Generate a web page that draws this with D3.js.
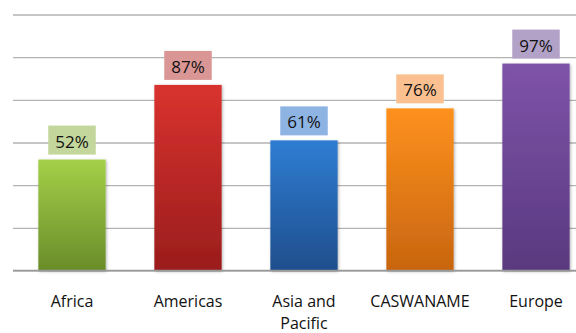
<!DOCTYPE html>
<html><head><meta charset="utf-8">
<script src="https://cdn.jsdelivr.net/npm/d3@7"></script>
<style>html,body{margin:0;padding:0;background:#fff;}svg{display:block;font-family:"Open Sans",sans-serif;}</style>
</head><body>
<script>
const categories = ["Africa", "Americas", "Asia and Pacific", "CASWANAME", "Europe"];
const values = [52, 87, 61, 76, 97];
const tickValues = [0, 20, 40, 60, 80, 100, 120];
const barTop = ["#a3d048", "#d9322e", "#2f7dd3", "#fe911e", "#7e53a9"];
const barBottom = ["#6a8c2a", "#9a1d1d", "#1f4e8c", "#c8650f", "#5a397f"];
const boxColors = ["#c3d69b", "#d99694", "#8eb4e3", "#fac090", "#b3a2c7"];

const W = 576, H = 333;
const svg = d3.select("body").append("svg").attr("width", W).attr("height", H);
const defs = svg.append("defs");
categories.forEach((c, i) => {
  const g = defs.append("linearGradient").attr("id", "g" + i).attr("x1", 0).attr("y1", 0).attr("x2", 0).attr("y2", 1);
  g.append("stop").attr("offset", "0%").attr("stop-color", barTop[i]);
  g.append("stop").attr("offset", "100%").attr("stop-color", barBottom[i]);
});
const f = defs.append("filter").attr("id", "sh").attr("x", "-20%").attr("y", "-20%").attr("width", "140%").attr("height", "140%");
f.append("feDropShadow").attr("dx", 1).attr("dy", 1).attr("stdDeviation", 1.5).attr("flood-color", "#000").attr("flood-opacity", 0.3);

const y = d3.scaleLinear().domain([0, 120]).range([270.5, 14.5]);
const x = d3.scaleBand().domain(categories).range([14, 594]).paddingInner(0.42).paddingOuter(0.21);

const yAxis = d3.axisLeft(y).tickValues(tickValues).tickSize(-(576 - 13)).tickFormat("");
const ga = svg.append("g").attr("transform", "translate(13,0)").call(yAxis);
ga.select(".domain").remove();
ga.selectAll(".tick line").attr("stroke", "#b3b3b3").attr("stroke-width", 1.3);

svg.append("g").selectAll("rect").data(values).join("rect")
  .attr("x", (d, i) => x(categories[i]))
  .attr("y", d => y(d))
  .attr("width", x.bandwidth())
  .attr("height", d => y(0) - y(d))
  .attr("fill", (d, i) => `url(#g${i})`)
  .attr("filter", "url(#sh)");

// baseline
svg.append("line").attr("x1", 13).attr("x2", 576).attr("y1", y(0)).attr("y2", y(0))
  .attr("stroke", "#999").attr("stroke-width", 1.3);

const lab = svg.append("g");
values.forEach((v, i) => {
  const cx = x(categories[i]) + x.bandwidth() / 2;
  const t = lab.append("text").attr("x", cx).attr("y", y(v) - 12).attr("text-anchor", "middle")
    .attr("font-size", 17).attr("fill", "#111").text(v + "%");
  const bb = t.node().getBBox();
  lab.insert("rect", "text").attr("x", cx - bb.width / 2 - 7).attr("y", y(v) - 34)
    .attr("width", bb.width + 14).attr("height", 29).attr("fill", boxColors[i]);
});

const xl = svg.append("g");
categories.forEach((c, i) => {
  const cx = x(c) + x.bandwidth() / 2;
  const lines = c === "Asia and Pacific" ? ["Asia and", "Pacific"] : [c];
  lines.forEach((l, k) => xl.append("text").attr("text-anchor", "middle").attr("font-size", 16)
    .attr("fill", "#111").attr("x", cx).attr("y", 307 + k * 22).text(l));
});
</script>
</body></html>
